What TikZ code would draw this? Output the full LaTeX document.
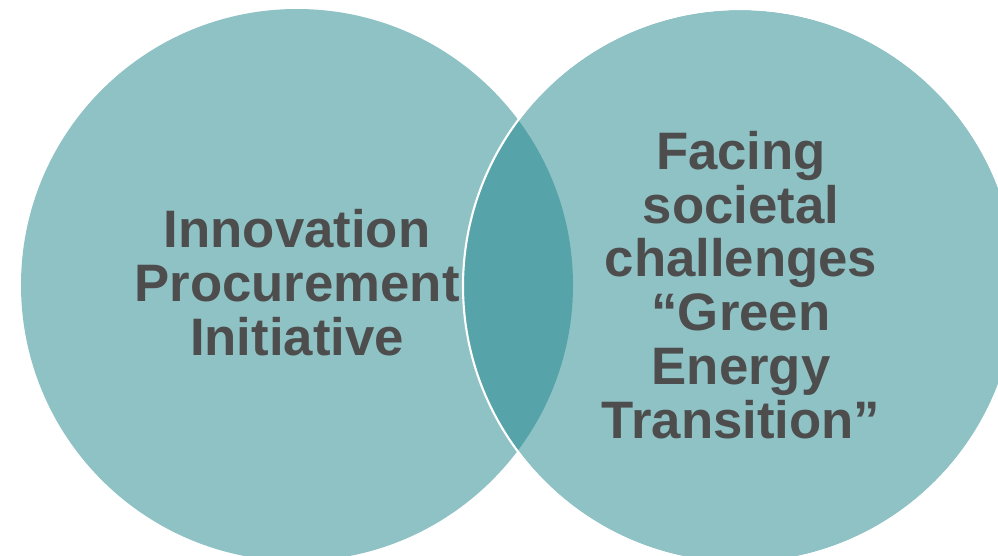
\documentclass[tikz,border=0pt]{standalone}
\usepackage{fontspec}
\setmainfont{Liberation Sans}
\definecolor{vennlight}{HTML}{8FC2C5}
\definecolor{venndark}{HTML}{56A4A9}
\definecolor{venntext}{HTML}{4D4D4D}
\tikzset{
  venn/.style={circle,fill=vennlight,minimum size=552*0.03cm,inner sep=0},
  label/.style={text=venntext,align=center,font=\bfseries\fontsize{45}{46}\selectfont}
}
\begin{document}
\begin{tikzpicture}[x=0.03cm,y=-0.03cm]
		\useasboundingbox (0,0) rectangle (998,556);
		\clip (0,0) rectangle (998,556);
		\node[venn] (ipi) at (297,285) {};
		\node[venn] (soc) at (740,286) {};
		% overlap
		\begin{scope}
			\clip (ipi.center) circle[radius=276];
			\fill[venndark] (soc.center) circle[radius=277];
		\end{scope}
		\draw[white,line width=1.8pt] (soc.center) circle[radius=277];

		\node[label] (ipitext) at (297,283) {Innovation\\Procurement\\Initiative};
		\node[label] (soctext) at (741,285) {Facing\\societal\\challenges\\“Green\\Energy\\Transition”};
	\end{tikzpicture}
\end{document}
